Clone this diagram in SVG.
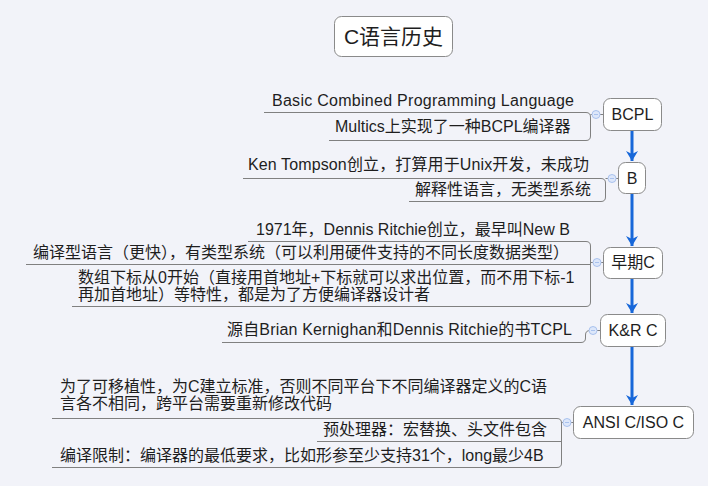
<svg xmlns="http://www.w3.org/2000/svg" width="708" height="486" viewBox="0 0 708 486">
<style>
text{font-family:"Liberation Sans","Noto Sans CJK SC",sans-serif;font-size:16px;fill:#1e1e1e}
.node{fill:#fff;stroke:#8a8a8a;stroke-width:1}
.br{fill:none;stroke:#808080;stroke-width:1}
.arr{stroke:#1767d9;stroke-width:3;fill:none;marker-end:url(#ah)}
.dot{fill:#dde7fa;stroke:#a9c2ee;stroke-width:1}
.minus{stroke:#a9c2ee;stroke-width:1}
.c{text-anchor:middle}
</style>
<defs>
<marker id="ah" viewBox="-11 -7 12 14" refX="0" refY="0" markerWidth="12" markerHeight="14" markerUnits="userSpaceOnUse" orient="auto">
<path d="M0,0 L-10,-6 L-7,0 L-10,6 z" fill="#1767d9"/>
</marker>
</defs>
<rect width="708" height="486" fill="#f2f3f9"/>

<g id="title">
<rect x="334.500" y="16.500" width="118" height="40" rx="7" class="node"/>
<text x="393.500" y="44" class="c" style="font-size:21px">C语言历史</text>
</g>

<g id="connectors">
<path class="arr" d="M632,130 V161"/>
<path class="arr" d="M632,193 V246"/>
<path class="arr" d="M632,278 V313"/>
<path class="arr" d="M632,346 V405"/>
<path class="br" d="M264,112.500 H586 Q590.500,112.500 590.500,117 V136 Q590.500,140.500 586,140.500 H329"/>
<path class="br" d="M590.500,114.500 H592 M600,114.500 H603"/>
<path class="br" d="M243,178.500 H601 Q605.500,178.500 605.500,183 V197 Q605.500,201.500 601,201.500 H409"/>
<path class="br" d="M605.500,178.500 H608 M616,178.500 H618"/>
<path class="br" d="M248,241.500 H586 Q590.500,241.500 590.500,246 V302 Q590.500,306.500 586,306.500 H72"/>
<path class="br" d="M26,264.500 H590.500"/>
<path class="br" d="M590.500,262.500 H593 M601,262.500 H603"/>
<path class="br" d="M222,342.500 H581 Q585.500,342.500 585.500,338 V335 Q585.500,330.500 590,330.500"/>
<path class="br" d="M597,330.500 H600"/>
<path class="br" d="M52,418.500 H557 Q561.500,418.500 561.500,423 V463 Q561.500,467.500 557,467.500 H52"/>
<path class="br" d="M317,441.500 H561.500"/>
<path class="br" d="M561.500,422.500 H563 M571,422.500 H573"/>
</g>

<g id="dots">
<circle cx="596" cy="114.500" r="4" class="dot"/><path class="minus" d="M594,114.500 H598"/>
<circle cx="612" cy="178.500" r="4" class="dot"/><path class="minus" d="M610,178.500 H614"/>
<circle cx="597" cy="262.500" r="4" class="dot"/><path class="minus" d="M595,262.500 H599"/>
<circle cx="593" cy="330.500" r="4" class="dot"/><path class="minus" d="M591,330.500 H595"/>
<circle cx="567" cy="422.500" r="4" class="dot"/><path class="minus" d="M565,422.500 H569"/>
</g>

<g id="bcpl">
<rect x="603.500" y="98.500" width="58" height="32" rx="7" class="node"/>
<text x="632.500" y="120" class="c">BCPL</text>
</g>
<g id="bcpl-notes">
<text x="272" y="106" textLength="302" lengthAdjust="spacing">Basic Combined Programming Language</text>
<text x="335" y="132">Multics上实现了一种BCPL编译器</text>
</g>

<g id="b">
<rect x="618.500" y="162.500" width="27" height="31" rx="7" class="node"/>
<text x="632" y="184" class="c">B</text>
</g>
<g id="b-notes">
<text x="248" y="170" textLength="341" lengthAdjust="spacing">Ken Tompson创立，打算用于Unix开发，未成功</text>
<text x="415" y="195">解释性语言，无类型系统</text>
</g>

<g id="earlyc">
<rect x="603.500" y="247.500" width="59" height="31" rx="7" class="node"/>
<text x="633" y="268" class="c">早期C</text>
</g>
<g id="earlyc-notes">
<text x="256" y="235">1971年，Dennis Ritchie创立，最早叫New B</text>
<text x="33" y="258">编译型语言（更快），有类型系统（可以利用硬件支持的不同长度数据类型）</text>
<text x="78" y="283">数组下标从0开始（直接用首地址+下标就可以求出位置，而不用下标-1</text>
<text x="78" y="300">再加首地址）等特性，都是为了方便编译器设计者</text>
</g>

<g id="krc">
<rect x="600.500" y="314.500" width="65" height="32" rx="7" class="node"/>
<text x="633" y="336" class="c">K&amp;R C</text>
</g>
<g id="krc-notes">
<text x="227" y="335" textLength="345" lengthAdjust="spacing">源自Brian Kernighan和Dennis Ritchie的书TCPL</text>
</g>

<g id="ansi">
<rect x="573.500" y="406.500" width="120" height="32" rx="7" class="node"/>
<text x="633.500" y="428" class="c">ANSI C/ISO C</text>
</g>
<g id="ansi-notes">
<text x="60" y="392">为了可移植性，为C建立标准，否则不同平台下不同编译器定义的C语</text>
<text x="60" y="409">言各不相同，跨平台需要重新修改代码</text>
<text x="323" y="435">预处理器：宏替换、头文件包含</text>
<text x="60" y="461">编译限制：编译器的最低要求，比如形参至少支持31个，long最少4B</text>
</g>
</svg>
